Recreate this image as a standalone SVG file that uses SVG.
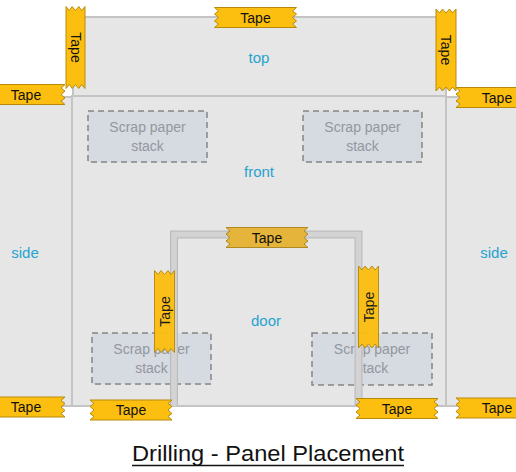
<svg xmlns="http://www.w3.org/2000/svg" xmlns:xlink="http://www.w3.org/1999/xlink" width="516" height="472" viewBox="0 0 516 472">
<style>
text{font-family:"Liberation Sans",Arial,sans-serif;}
.panel{fill:#e6e6e6;stroke:#c4c4c4;stroke-width:2;}
.lbl{fill:#27a3d0;font-size:15px;text-anchor:middle;dominant-baseline:central;}
.scrap{fill:#d6dae1;stroke:#858585;stroke-width:1.5;stroke-dasharray:6 4;}
.stxt{fill:#9397a0;font-size:14px;text-anchor:middle;dominant-baseline:central;}
.tape{fill:#fcbf0f;stroke:#b88a0a;stroke-width:1;}
.tape2{fill:#e5b43a;stroke:#b08a20;stroke-width:1;}
.ttxt{fill:#111;font-size:14px;text-anchor:middle;dominant-baseline:central;}
.door{fill:none;stroke-linejoin:miter;}
</style>
<defs>
<path id="tp" d="M-41,-10 H41 l-4,3.5 l4,3 l-4,3.5 l4,3.5 l-4,3 l4,3.5 H-41 l4,-3.5 l-4,-3 l4,-3.5 l-4,-3.5 l4,-3 l-4,-3.5 Z"/>
</defs>
<rect width="516" height="472" fill="#ffffff"/>
<g id="side-left"><rect class="panel" x="-3" y="97" width="75" height="309"/><text class="lbl" x="25" y="252">side</text></g>
<g id="side-right"><rect class="panel" x="446" y="97" width="73" height="309"/><text class="lbl" x="494" y="252">side</text></g>
<g id="top"><rect class="panel" x="73" y="17" width="373" height="79"/><text class="lbl" x="259" y="57">top</text></g>
<g id="front"><rect class="panel" x="72" y="96" width="374" height="310"/><text class="lbl" x="259" y="171">front</text></g>
<g id="scrap-tl"><rect class="scrap" x="88" y="111" width="119" height="51"/><text class="stxt" x="147.5" y="127">Scrap paper</text><text class="stxt" x="147.5" y="146">stack</text></g>
<g id="scrap-tr"><rect class="scrap" x="303" y="111" width="119" height="51"/><text class="stxt" x="362.5" y="127">Scrap paper</text><text class="stxt" x="362.5" y="146">stack</text></g>
<g id="scrap-bl"><rect class="scrap" x="92" y="333" width="119" height="51"/><text class="stxt" x="151.5" y="349">Scrap paper</text><text class="stxt" x="151.5" y="368">stack</text></g>
<g id="scrap-br"><rect class="scrap" x="312" y="333" width="120" height="52"/><text class="stxt" x="372" y="349">Scrap paper</text><text class="stxt" x="372" y="368">stack</text></g>
<g id="door">
<path class="door" d="M174,406 V234.5 H358.5 V406" stroke="#bcbcbc" stroke-width="8"/>
<path class="door" d="M174,406 V234.5 H358.5 V406" stroke="#d3d3d3" stroke-width="5.5"/>
<text class="lbl" x="266" y="320">door</text>
</g>
<g id="connectors"></g>
<g id="tape-top" transform="translate(255.5,17.5)"><use xlink:href="#tp" class="tape"/><text class="ttxt">Tape</text></g>
<g id="tape-tl" transform="translate(75.5,47.5) rotate(90)"><use xlink:href="#tp" class="tape" transform="scale(1,0.95)"/><text class="ttxt">Tape</text></g>
<g id="tape-tr" transform="translate(446,50) rotate(90)"><use xlink:href="#tp" class="tape"/><text class="ttxt">Tape</text></g>
<g id="tape-lt" transform="translate(24,94.5)"><use xlink:href="#tp" class="tape"/><text class="ttxt" x="2">Tape</text></g>
<g id="tape-rt" transform="translate(497,97.5)"><use xlink:href="#tp" class="tape"/><text class="ttxt">Tape</text></g>
<g id="tape-door-top" transform="translate(267,237.5)"><use xlink:href="#tp" class="tape2"/><text class="ttxt">Tape</text></g>
<g id="tape-door-left" transform="translate(164.5,311.5) rotate(-90)" opacity="0.95"><use xlink:href="#tp" class="tape"/><text class="ttxt">Tape</text></g>
<g id="tape-door-right" transform="translate(368.5,307) rotate(-90)" opacity="0.95"><use xlink:href="#tp" class="tape"/><text class="ttxt">Tape</text></g>
<g id="tape-bl" transform="translate(24,407)"><use xlink:href="#tp" class="tape"/><text class="ttxt" x="2">Tape</text></g>
<g id="tape-b1" transform="translate(131,410)"><use xlink:href="#tp" class="tape"/><text class="ttxt">Tape</text></g>
<g id="tape-b2" transform="translate(397,408.5)"><use xlink:href="#tp" class="tape"/><text class="ttxt">Tape</text></g>
<g id="tape-br" transform="translate(497,408)"><use xlink:href="#tp" class="tape"/><text class="ttxt">Tape</text></g>
<g id="title">
<text x="132" y="461" font-size="22" fill="#111" textLength="272" lengthAdjust="spacingAndGlyphs">Drilling - Panel Placement</text>
<line x1="132" y1="465.5" x2="404" y2="465.5" stroke="#111" stroke-width="1.5"/>
</g>
</svg>
